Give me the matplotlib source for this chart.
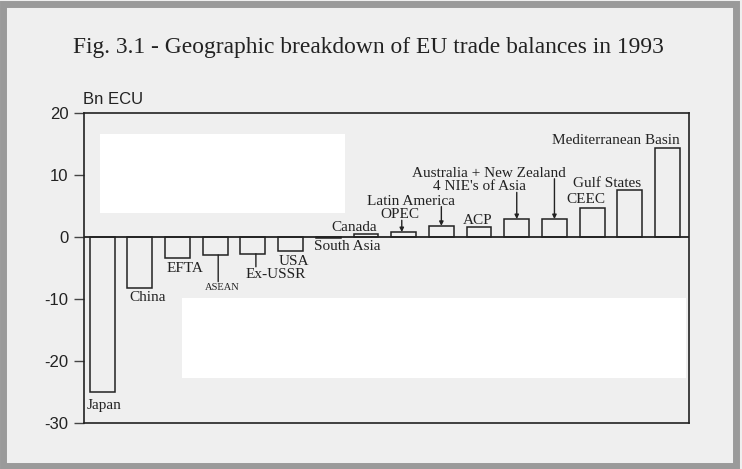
import matplotlib.pyplot as plt
from matplotlib.patches import Rectangle

# Données : solde commercial de l'UE en 1993 (Mrd ECU)
regions = ['Japan', 'China', 'EFTA', 'ASEAN', 'Ex-USSR', 'USA', 'South Asia',
           'Canada', 'OPEC', 'Latin America', 'ACP', "4 NIE's of Asia",
           'Australia + New Zealand', 'CEEC', 'Gulf States', 'Mediterranean Basin']
balances = [-25.0, -8.2, -3.4, -2.9, -2.7, -2.3, -0.2,
            0.5, 0.8, 1.8, 1.6, 2.9, 2.9, 4.6, 7.6, 14.4]
yticks = [-30, -20, -10, 0, 10, 20]

bg = '#efefef'
fig = plt.figure(figsize=(7.42, 4.69), dpi=100, facecolor=bg)

# bordure grise du scan
fig.patches.append(Rectangle((0.004, 0.006), 0.988, 0.985, transform=fig.transFigure,
                             fill=False, edgecolor='#9a9a9a', linewidth=5, zorder=-5))
# taches blanches du scan
for (x0, y0, w, h) in [(0.135, 0.545, 0.33, 0.17), (0.245, 0.195, 0.68, 0.17)]:
    fig.patches.append(Rectangle((x0, y0), w, h, transform=fig.transFigure,
                                 facecolor='white', edgecolor='none', zorder=-5))

ax = fig.add_axes([0.1132, 0.0981, 0.8154, 0.6609])
ax.set_facecolor('none')

x = list(range(len(regions)))
ax.bar(x, balances, width=0.66, facecolor='none', edgecolor='#222222', linewidth=1.1)
ax.axhline(0, color='#222222', linewidth=1.3)

ax.set_xlim(-0.48, 15.57)
ax.set_ylim(-30, 20)
ax.set_yticks(yticks)
ax.set_yticklabels([str(t) for t in yticks], fontsize=12, family='Liberation Sans', color='#222222')
ax.tick_params(axis='y', direction='out', length=7, width=1, color='#444444', pad=4)
ax.set_xticks([])
for s in ax.spines.values():
    s.set_color('#222222')
    s.set_linewidth(1.2)

ser = dict(family='Liberation Serif', fontsize=11, color='#222222', ha='center', va='center')

# position du centre de chaque étiquette (x, y en données)
label_pos = {
    'Japan': (0.05, -27.1),
    'China': (1.22, -9.8),
    'EFTA': (2.2, -5.0),
    'ASEAN': (3.2, -8.1),
    'Ex-USSR': (4.6, -6.1),
    'USA': (5.1, -3.9),
    'South Asia': (6.5, -1.6),
    'Canada': (6.7, 1.6),
    'OPEC': (7.9, 3.7),
    'Latin America': (8.2, 5.8),
    'ACP': (9.97, 2.6),
    "4 NIE's of Asia": (10.0, 8.2),
    'Australia + New Zealand': (10.27, 10.3),
    'CEEC': (12.84, 6.0),
    'Gulf States': (13.4, 8.7),
    'Mediterranean Basin': (13.63, 15.6),
}
# traits reliant l'étiquette à la barre (x, y de départ)
leaders = {
    'ASEAN': (3.08, -7.2),
    'Ex-USSR': (4.08, -4.8),
    'OPEC': (7.95, 2.7),
    'Latin America': (9.0, 4.9),
    "4 NIE's of Asia": (11.0, 7.2),
    'Australia + New Zealand': (12.0, 9.4),
}

for i, name in enumerate(regions):
    tx, ty = label_pos[name]
    fs = 7.5 if name == 'ASEAN' else 11
    ax.text(tx, ty, name, **{**ser, 'fontsize': fs})
    if name in leaders:
        lx, ly = leaders[name]
        style = '-' if balances[i] < 0 else '-|>'
        ax.annotate('', xy=(lx, balances[i]), xytext=(lx, ly),
                    arrowprops=dict(arrowstyle=style, color='#222222', linewidth=1,
                                    mutation_scale=6, shrinkA=0, shrinkB=0))

fig.text(0.496, 0.898, 'Fig. 3.1 - Geographic breakdown of EU trade balances in 1993',
         ha='center', va='center', family='Liberation Serif', fontsize=16.9, color='#222222')
fig.text(0.112, 0.787, 'Bn ECU', ha='left', va='center', family='Liberation Sans',
         fontsize=12, color='#222222')

fig.savefig('out.png', dpi=100, facecolor=bg)
